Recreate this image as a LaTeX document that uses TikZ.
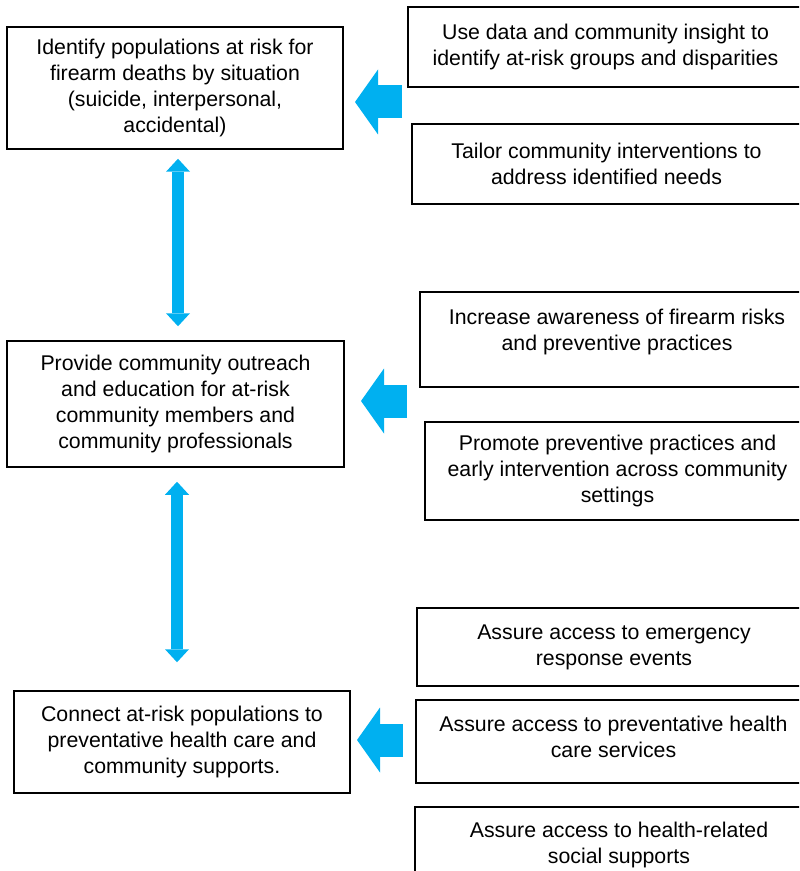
\documentclass[tikz,border=0pt]{standalone}
\usepackage{fontspec}
\setmainfont{Liberation Sans}
\usetikzlibrary{arrows.meta}
\definecolor{arrowblue}{HTML}{00B0F0}
\tikzset{>=Triangle}
\tikzstyle{lbox}=[draw,line width=0.75pt,align=center,inner sep=0pt,
  font=\fontsize{10.65}{13.1}\selectfont,minimum width=168pt]
\tikzstyle{rbox}=[lbox]
\tikzstyle{dblarr}=[arrowblue,line width=6pt,
  {Triangle[width=12pt,length=6.5pt,line width=0pt]}-{Triangle[width=12pt,length=6.5pt,line width=0pt]}]
\tikzstyle{blockarr}=[arrowblue,line width=16.5pt,
  -{Triangle[width=32.5pt,length=11.5pt,line width=0pt]}]

\begin{document}
\begin{tikzpicture}[x=0.5pt,y=-0.5pt]
  \useasboundingbox (0,0) rectangle (799,871);
  \clip (0,0) rectangle (799,871);

  % LEFT COLUMN
  \node[lbox,minimum height=61pt] (L1) at (175,88)
    {Identify populations at risk for\\firearm deaths by situation\\(suicide, interpersonal,\\accidental)};
  \node[lbox,minimum width=168.5pt,minimum height=63pt] (L2) at (175.5,404)
    {Provide community outreach\\and education for at-risk\\community members and\\community professionals};
  \node[lbox,minimum height=51pt] (L3) at (182,742)
    {Connect at-risk populations to\\preventative health care and\\community supports.};

  % RIGHT COLUMN
  \node[rbox,minimum width=197.5pt,minimum height=40pt] (R1) at (605.5,47)
    {Use data and community insight to\\identify at-risk groups and disparities};
  \node[rbox,minimum width=194.5pt,minimum height=40pt] (R2) at (606.5,164)
    {Tailor community interventions to\\address identified needs};
  \node[rbox,minimum width=197pt,minimum height=47.5pt,text depth=9.4pt] (R3) at (617,339.5)
    {Increase awareness of firearm risks\\and preventive practices};
  \node[rbox,minimum width=192.5pt,minimum height=49pt] (R4) at (617.5,471)
    {Promote preventive practices and\\early intervention across community\\settings};
  \node[rbox,minimum width=197pt,minimum height=39pt] (R5) at (614,647)
    {Assure access to emergency\\response events};
  \node[rbox,minimum width=197.5pt,minimum height=41.5pt,text depth=5.1pt] (R6) at (613.5,741.5)
    {Assure access to preventative health\\care services};
  \node[rbox,minimum width=204pt,minimum height=38pt] (R7) at (619,845)
    {Assure access to health-related\\social supports};

  % ARROWS
  \draw[dblarr,shorten <=4.5pt,shorten >=7pt] ([xshift=1.5pt]L1.south) -- ([xshift=1.5pt]L1.south |- L2.north);
  \draw[dblarr,shorten <=7pt,shorten >=14pt] ([xshift=0.75pt]L2.south) -- ([xshift=0.75pt]L2.south |- L3.north);
  \coordinate (B1) at (402,102);
  \coordinate (B2) at (407,401);
  \coordinate (B3) at (403,740);
  \draw[blockarr] (B1) -- ++(-47,0);
  \draw[blockarr] (B2) -- ++(-46,0);
  \draw[blockarr] (B3) -- ++(-46,0);
\end{tikzpicture}
\end{document}
